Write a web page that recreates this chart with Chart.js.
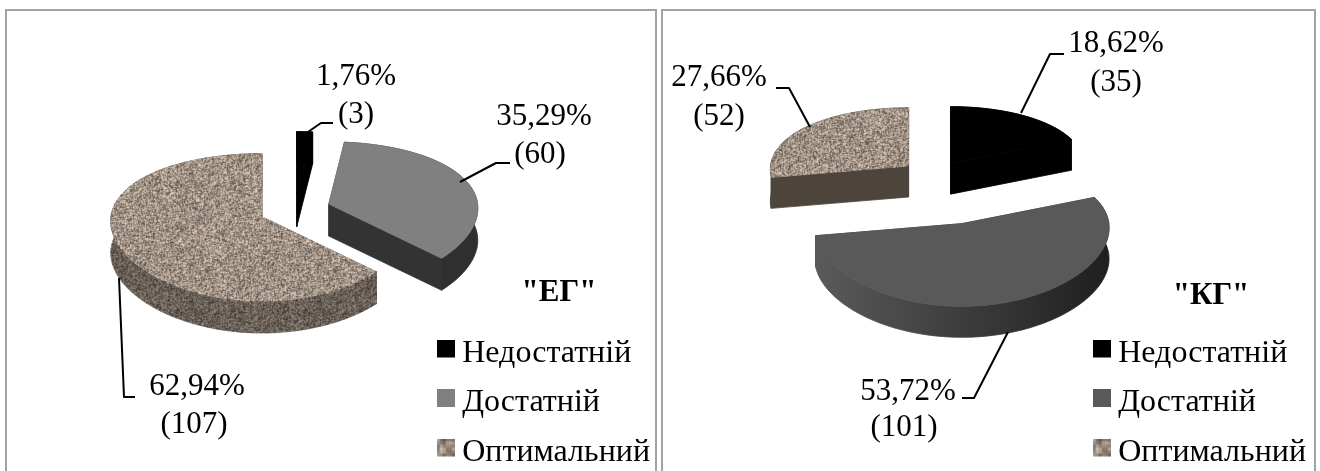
<!DOCTYPE html>
<html>
<head>
<meta charset="utf-8">
<title>ЕГ / КГ</title>
<script src="https://cdn.jsdelivr.net/npm/chart.js@4"></script>
<style>
  html, body { margin: 0; padding: 0; background: #fff; overflow: hidden; }
  #wrap { position: relative; width: 1320px; height: 471px; overflow: hidden; }
  .panel { position: absolute; top: 9px; height: 480px; border: 2px solid #a3a3a3; box-sizing: border-box; }
  canvas { position: absolute; top: 0; }
</style>
</head>
<body>
<div id="wrap">
  <div class="panel" style="left:5px;width:652px"></div>
  <div class="panel" style="left:661px;width:655px"></div>
  <canvas id="chartEg" width="670" height="471" style="left:0"></canvas>
  <canvas id="chartKg" width="660" height="471" style="left:660px"></canvas>
</div>
<script>
var categories = ['Недостатній', 'Достатній', 'Оптимальний'];
var countsEg = [3, 60, 107];
var countsKg = [35, 101, 52];
var percentsEg = ['1,76%', '35,29%', '62,94%'];
var percentsKg = ['18,62%', '53,72%', '27,66%'];

var FONT = '"Liberation Serif", "Times New Roman", serif';

// speckled stone tile, same look as the office texture
function stoneTile(size, scale, shade) {
  var grain = [];
  var seed = 12345;
  for (var i = 0; i < size * size; i++) {
    seed = (seed * 1103515245 + 12345) & 0x7fffffff;
    grain.push(((seed >> 12) % 100) / 100 - 0.5);
  }
  var small = document.createElement('canvas');
  small.width = small.height = size;
  var g = small.getContext('2d');
  var img = g.createImageData(size, size);
  for (var y = 0; y < size; y++) {
    for (var x = 0; x < size; x++) {
      // soften each grain with its neighbours, wrapping at the tile edge
      var n = grain[y * size + x] * 0.5 +
        (grain[y * size + (x + 1) % size] + grain[y * size + (x + size - 1) % size] +
         grain[((y + 1) % size) * size + x] + grain[((y + size - 1) % size) * size + x]) * 0.125;
      var k = (1 + n * 1.0) * shade;
      var p = (y * size + x) * 4;
      img.data[p] = 160 * k;
      img.data[p + 1] = 146 * k;
      img.data[p + 2] = 133 * k;
      img.data[p + 3] = 255;
    }
  }
  g.putImageData(img, 0, 0);
  var c = document.createElement('canvas');
  c.width = c.height = size * scale;
  var cg = c.getContext('2d');
  cg.imageSmoothingEnabled = false;
  cg.drawImage(small, 0, 0, size * scale, size * scale);
  return c;
}
function stoneFill(shade) {
  var tile = stoneTile(128, 1, shade);
  return tile.getContext('2d').createPattern(tile, 'repeat');
}
var stone = stoneFill(1);
var stoneDark = stoneFill(0.66);

// legend swatch sits above the middle of the text line, as in the picture
function swatch(fill) {
  var c = document.createElement('canvas');
  c.width = 18;
  c.height = 28;
  var g = c.getContext('2d');
  if (fill === stone) {
    g.drawImage(stoneTile(6, 3, 1), 0, 0);
  } else {
    g.fillStyle = fill;
    g.fillRect(0, 0, 18, 18);
  }
  return c;
}

// draws the library's arcs as a tilted disc with walls
var tiltedPie = {
  id: 'tiltedPie',
  beforeDatasetsDraw: function(chart, args, opts) {
    var ctx = chart.ctx;
    var arcs = chart.getDatasetMeta(0).data;
    var order = arcs.map(function(a, i) { return i; });
    var apexes = arcs.map(function(el, i) {
      var mid = (el.startAngle + el.endAngle) / 2;
      var d = el.options.offset;
      return { x: opts.centre[0] + Math.cos(mid) * d, y: opts.centre[1] + Math.sin(mid) * d * opts.tilt };
    });
    order.sort(function(a, b) { return apexes[a].y - apexes[b].y; });

    order.forEach(function(i) {
      var el = arcs[i], apex = apexes[i];
      var R = el.outerRadius * opts.radiusScale[i];
      var persp = 7 * R;
      function pt(r, a, z) {
        var u = Math.cos(a) * r, v = Math.sin(a) * r;
        var s = persp / (persp - v);
        var sx = 1 + (s - 1) * 0.4;
        return [apex.x + u * sx, apex.y + v * opts.tilt * s + z];
      }
      function arcPts(from, to, z) {
        var pts = [], n = 60;
        for (var k = 0; k <= n; k++) pts.push(pt(R, from + (to - from) * k / n, z));
        return pts;
      }
      function fillPoly(pts, fill) {
        ctx.beginPath();
        pts.forEach(function(p, k) { k ? ctx.lineTo(p[0], p[1]) : ctx.moveTo(p[0], p[1]); });
        ctx.closePath();
        ctx.fillStyle = fill;
        ctx.strokeStyle = fill;
        ctx.lineWidth = 0.8;
        ctx.lineJoin = 'round';
        ctx.fill();
        ctx.stroke();
      }
      var a0 = el.startAngle, a1 = el.endAngle, dz = opts.depth;

      // radial walls
      [a0, a1].forEach(function(a) {
        fillPoly([pt(0, a, 0), pt(R, a, 0), pt(R, a, dz), pt(0, a, dz)], opts.edge[i]);
      });
      // outer wall
      var wall = opts.wall[i];
      if (Array.isArray(wall)) {
        var gr = ctx.createLinearGradient(apex.x - R, 0, apex.x + R, 0);
        wall.forEach(function(c, k) { gr.addColorStop(k / (wall.length - 1), c); });
        wall = gr;
      }
      fillPoly(arcPts(a0, a1, 0).concat(arcPts(a1, a0, dz)), wall);
      // top face
      fillPoly([pt(0, a0, 0)].concat(arcPts(a0, a1, 0)), el.options.backgroundColor);
    });

    // leader lines and value labels
    ctx.strokeStyle = '#000';
    ctx.lineWidth = 2;
    ctx.fillStyle = '#000';
    ctx.textAlign = 'center';
    ctx.textBaseline = 'middle';
    ctx.font = '31px ' + FONT;
    opts.leaders.forEach(function(line) {
      ctx.beginPath();
      line.forEach(function(p, k) { k ? ctx.lineTo(p[0], p[1]) : ctx.moveTo(p[0], p[1]); });
      ctx.stroke();
    });
    opts.labelPos.forEach(function(p, i) {
      ctx.fillText(opts.percents[i], p[0], p[1]);
      ctx.fillText('(' + opts.counts[i] + ')', p[2], p[3]);
    });
    ctx.font = 'bold 31px ' + FONT;
    ctx.fillText(opts.group, opts.groupPos[0], opts.groupPos[1]);
    return false;
  }
};

function makePie(id, counts, colors, offsets, radius, bottomPad, rightPad, opts) {
  var swatches = colors.map(swatch);
  return new Chart(document.getElementById(id), {
    type: 'pie',
    plugins: [tiltedPie],
    data: {
      labels: categories,
      datasets: [{
        data: counts,
        backgroundColor: colors,
        offset: offsets,
        borderWidth: 0,
        radius: radius
      }]
    },
    options: {
      responsive: false,
      animation: false,
      layout: { padding: { bottom: bottomPad, right: rightPad } },
      plugins: {
        tooltip: { enabled: false },
        tiltedPie: opts,
        legend: {
          position: 'right',
          align: 'end',
          labels: {
            usePointStyle: true,
            boxWidth: 1,
            boxHeight: 17,
            padding: 17.5,
            color: '#000',
            font: { family: FONT, size: 32 },
            generateLabels: function(chart) {
              var items = Chart.controllers.doughnut.overrides.plugins.legend.labels.generateLabels(chart);
              items.forEach(function(item, i) { item.pointStyle = swatches[i]; });
              return items;
            }
          }
        }
      }
    }
  });
}

makePie('chartEg', countsEg, ['#000000', '#808080', stone], [32, 36, 36], 151, -15, 10, {
  centre: [295, 210],
  tilt: 0.478,
  depth: 32,
  radiusScale: [1, 0.985, 1],
  edge: ['#000000', '#333333', '#5f564d'],
  wall: ['#000000', '#2f2f2f', stoneDark],
  counts: countsEg,
  percents: percentsEg,
  group: '"ЕГ"',
  groupPos: [559, 293],
  labelPos: [[356, 77, 356, 115], [544, 117, 540, 155], [197, 387, 194, 425]],
  leaders: [
    [[305, 134], [321, 123], [333, 123]],
    [[460, 182], [496, 163], [510, 163]],
    [[119, 278], [124, 397], [135, 397]]
  ]
});

makePie('chartKg', countsKg, ['#000000', '#595959', stone], [32, 103, 32], 138, -15, 4, {
  centre: [273, 176],
  tilt: 0.482,
  depth: 31,
  radiusScale: [0.97, 1.065, 1],
  edge: ['#000000', '#333333', '#4d443c'],
  wall: ['#000000', ['#5a5a5a', '#3d3d3d', '#1f1f1f'], '#4d443c'],
  counts: countsKg,
  percents: percentsKg,
  group: '"КГ"',
  groupPos: [551, 296],
  labelPos: [[456, 44, 456, 83], [248, 392, 244, 428], [59, 78, 59, 117]],
  leaders: [
    [[361, 113], [390, 54], [404, 54]],
    [[348, 332], [314, 398], [302, 398]],
    [[150, 127], [129, 88], [116, 88]]
  ]
});
</script>
</body>
</html>
